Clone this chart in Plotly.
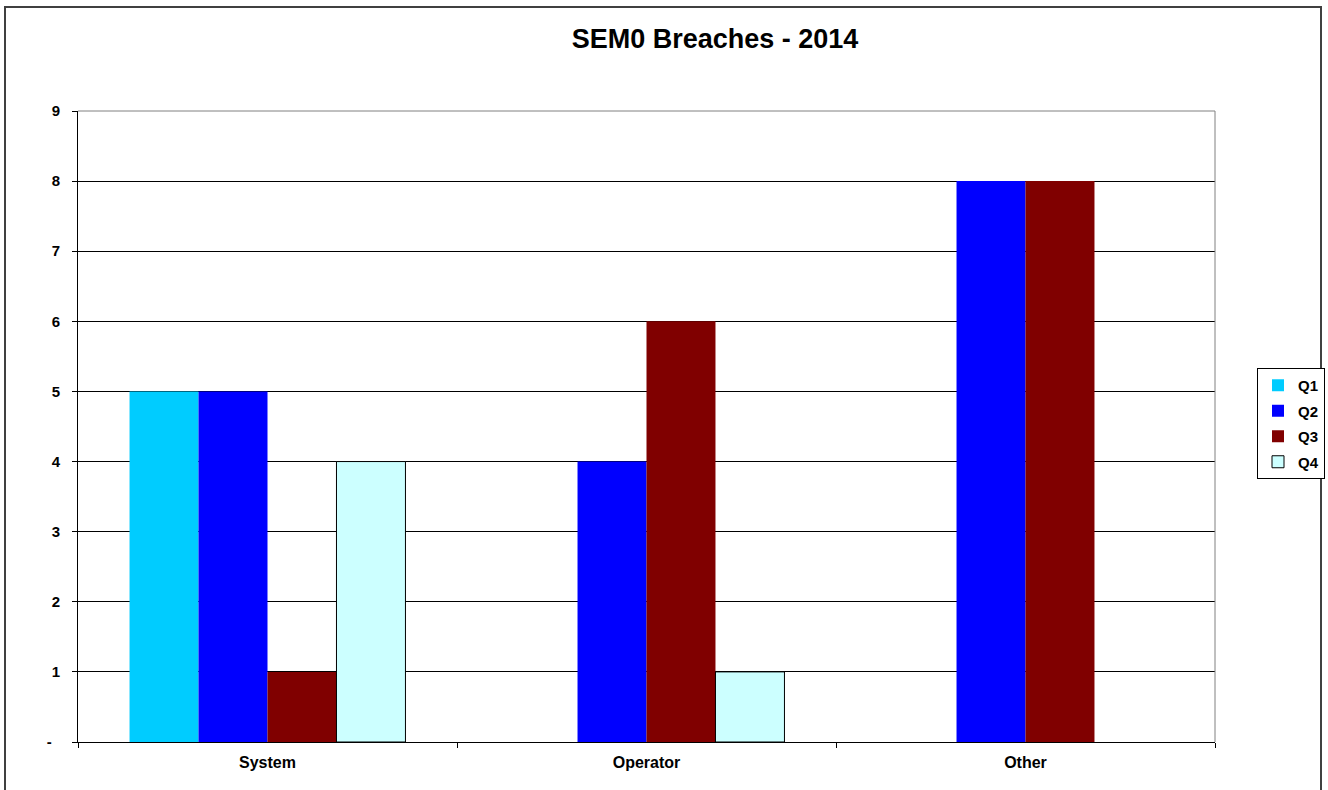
import plotly.graph_objects as go

categories = ["System", "Operator", "Other"]
q1 = [5, None, None]
q2 = [5, 4, 8]
q3 = [1, 6, 8]
q4 = [4, 1, None]
series_names = ["Q1", "Q2", "Q3", "Q4"]
y_tickvals = [0, 1, 2, 3, 4, 5, 6, 7, 8, 9]
y_ticktext = ["-\u00a0\u00a0", "1", "2", "3", "4", "5", "6", "7", "8", "9"]

colors = ["#00CCFF", "#0000FF", "#800000", "#CCFFFF"]
line_w = [0, 0, 0, 1]

W, H = 1328, 790
L, R, T, B = 78, 1215, 111, 742
FONT = "Arial, Liberation Sans, sans-serif"

fig = go.Figure()
for name, vals, c, lw in zip(series_names, [q1, q2, q3, q4], colors, line_w):
    fig.add_trace(go.Bar(
        x=categories, y=vals, name=name, legendgroup=name,
        marker=dict(color=c, line=dict(color="#000000", width=lw)),
    ))

pw = R - L
ph = B - T

fig.update_layout(
    width=W, height=H,
    margin=dict(l=L, r=W - R, t=T, b=H - B, pad=0, autoexpand=False),
    paper_bgcolor="white", plot_bgcolor="white",
    barmode="group", bargap=0.272, bargroupgap=0,
    font=dict(family=FONT, size=15, color="black"),
    title=dict(text="SEM0 Breaches - 2014", x=715 / W, xref="container",
               xanchor="center", y=1 - 39 / H, yref="container", yanchor="middle",
               font=dict(family=FONT, size=27, color="black", weight="bold")),
    showlegend=True,
    legend=dict(xref="container", yref="container",
                x=1257 / W, xanchor="left", y=1 - 368 / H, yanchor="top",
                bordercolor="black", borderwidth=1, bgcolor="white",
                font=dict(family=FONT, size=15, color="black", weight="bold"),
                traceorder="grouped", tracegroupgap=3,
                itemwidth=30),
    xaxis=dict(type="category", showline=True, linecolor="black", linewidth=1,
               ticks="outside", tickson="boundaries", ticklen=5, tickcolor="black",
               showgrid=False,
               tickfont=dict(family=FONT, size=16, color="black", weight="bold"),
               ticklabelstandoff=6),
    yaxis=dict(range=[0, 9], tickvals=y_tickvals, ticktext=y_ticktext,
               showline=True, linecolor="black", linewidth=1,
               ticks="outside", ticklen=5, tickcolor="black",
               showgrid=True, gridcolor="black", gridwidth=1, zeroline=False,
               tickfont=dict(family=FONT, size=15, color="black", weight="bold"),
               ticklabelstandoff=9),
)

# plot-area border (top and right, gray)
fig.add_shape(type="line", xref="paper", yref="paper", x0=0, x1=1, y0=1, y1=1,
              line=dict(color="#808080", width=1), layer="above")
fig.add_shape(type="line", xref="paper", yref="paper", x0=1, x1=1, y0=0, y1=1,
              line=dict(color="#808080", width=1), layer="above")
# outer chart border
fig.add_shape(type="rect", xref="paper", yref="paper",
              x0=(5 - L) / pw, x1=(1321 - L) / pw, y0=(B - 800) / ph, y1=(B - 7) / ph,
              line=dict(color="#404040", width=2), layer="above")

fig.write_html("out.html", config={"displayModeBar": False},
               post_script="document.body.style.margin='0';document.body.style.padding='0';"
                           "document.body.style.overflow='hidden';")
